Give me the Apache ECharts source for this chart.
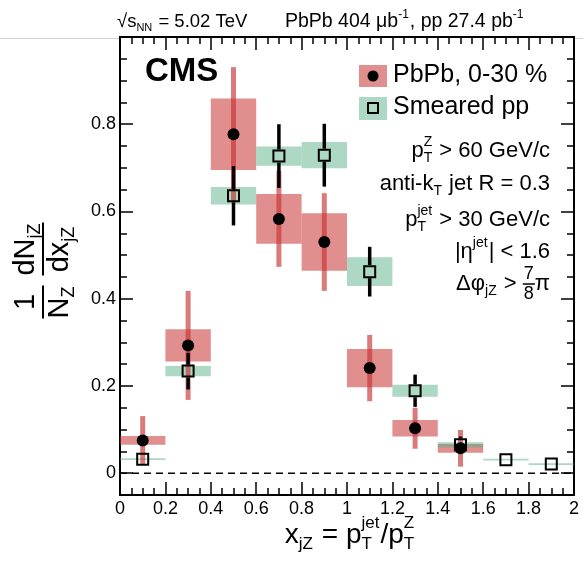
<!DOCTYPE html>
<html>
<head>
<meta charset="utf-8">
<script src="https://cdn.jsdelivr.net/npm/echarts@6/dist/echarts.min.js"></script>
<style>
html, body { margin: 0; padding: 0; background: #fff; }
#main { width: 583px; height: 564px; }
</style>
</head>
<body>
<div id="main"></div>
<script>
// bin centres of x_jZ, bins are 0.2 wide
var xBins = [0.1, 0.3, 0.5, 0.7, 0.9, 1.1, 1.3, 1.5, 1.7, 1.9];
var binHalf = 0.1;
// PbPb 0-30 %
var pbpbVal  = [0.075, 0.293, 0.777, 0.583, 0.530, 0.241, 0.103, 0.057, null, null];
var pbpbStat = [0.056, 0.125, 0.154, 0.110, 0.112, 0.076, 0.047, 0.042, null, null];
var pbpbSys  = [0.010, 0.037, 0.082, 0.057, 0.066, 0.044, 0.019, 0.010, null, null];
// smeared pp
var ppVal    = [0.032, 0.234, 0.636, 0.727, 0.729, 0.462, 0.189, 0.065, 0.031, 0.021];
var ppStat   = [0.004, 0.042, 0.068, 0.073, 0.072, 0.057, 0.037, 0.019, 0.004, 0.004];
var ppSys    = [0.002, 0.012, 0.020, 0.022, 0.030, 0.033, 0.014, 0.006, 0.002, 0.002];
// axis ticks
var yMajor = [0, 0.2, 0.4, 0.6, 0.8];

var FONT = '"Liberation Sans", Arial, Helvetica, sans-serif';
var RED_BOX = 'rgba(199,50,50,0.55)';
var RED_BAR = 'rgba(199,50,50,0.65)';
var GREEN_BOX = 'rgba(89,177,137,0.5)';

var mctx = document.createElement('canvas').getContext('2d');
function tw(s, size, bold) {
    mctx.font = (bold ? 'bold ' : '') + size + 'px ' + FONT;
    return mctx.measureText(s).width;
}
function txt(s, x, y, size, bold) {
    return {
        type: 'text', x: x, y: y, silent: true, z: 100,
        style: { text: s, fill: '#000', font: (bold ? 'bold ' : '') + size + 'px ' + FONT,
            align: 'left', verticalAlign: 'middle', textAlign: 'left', textVerticalAlign: 'middle' }
    };
}
// little TLatex-like helper: strings, {sub}, {sup}, {frac:[a,b]}
function formula(parts, x, y, size, anchor) {
    var small = Math.round(size * 0.62), cx = 0, items = [];
    parts.forEach(function (p) {
        if (typeof p === 'string') { items.push([p, cx, 0, size]); cx += tw(p, size); return; }
        if (p.frac) {
            var fs = Math.round(size * 0.8);
            var w = Math.max(tw(p.frac[0], fs), tw(p.frac[1], fs)) + 2;
            items.push([p.frac[0], cx + (w - tw(p.frac[0], fs)) / 2, -size * 0.45, fs]);
            items.push([p.frac[1], cx + (w - tw(p.frac[1], fs)) / 2, size * 0.45, fs]);
            items.push(['__line', cx, 0, w]);
            cx += w; return;
        }
        var w2 = 0;
        if (p.sup) { items.push([p.sup, cx, -size * 0.4, small]); w2 = tw(p.sup, small); }
        if (p.sub) { items.push([p.sub, cx, size * 0.32, small]); w2 = Math.max(w2, tw(p.sub, small)); }
        cx += w2 + 1;
    });
    var x0 = anchor === 'right' ? x - cx : anchor === 'center' ? x - cx / 2 : x;
    var els = items.map(function (it) {
        if (it[0] === '__line') {
            return { type: 'line', silent: true, z: 100,
                shape: { x1: x0 + it[1], y1: y + it[2], x2: x0 + it[1] + it[3], y2: y + it[2] },
                style: { stroke: '#000', lineWidth: 1.5 } };
        }
        return txt(it[0], x0 + it[1], y + it[2], it[3]);
    });
    return { els: els, width: cx };
}

function pick(vals, errs) {
    var d = [];
    xBins.forEach(function (x, i) { if (vals[i] != null) d.push([x, vals[i], errs[i]]); });
    return d;
}
function boxSeries(vals, errs, color, z) {
    return {
        type: 'custom', z: z, silent: true, encode: { x: 0, y: 1 }, data: pick(vals, errs),
        renderItem: function (params, api) {
            var x = api.value(0), y = api.value(1), e = api.value(2);
            var p1 = api.coord([x - binHalf, y + e]), p2 = api.coord([x + binHalf, y - e]);
            var h = Math.max(p2[1] - p1[1], 1.2);
            return { type: 'rect', shape: { x: p1[0], y: (p1[1] + p2[1]) / 2 - h / 2, width: p2[0] - p1[0], height: h },
                style: { fill: color } };
        }
    };
}
function barSeries(vals, errs, color, width, gap, z) {
    return {
        type: 'custom', z: z, silent: true, encode: { x: 0, y: 1 }, data: pick(vals, errs),
        renderItem: function (params, api) {
            var x = api.value(0), y = api.value(1), e = api.value(2);
            var t = api.coord([x, y + e]), c = api.coord([x, y]), b = api.coord([x, y - e]);
            var kids = [];
            if (c[1] - gap > t[1]) kids.push({ type: 'line', shape: { x1: t[0], y1: t[1], x2: t[0], y2: c[1] - gap }, style: { stroke: color, lineWidth: width } });
            if (b[1] > c[1] + gap) kids.push({ type: 'line', shape: { x1: t[0], y1: c[1] + gap, x2: t[0], y2: b[1] }, style: { stroke: color, lineWidth: width } });
            return { type: 'group', children: kids };
        }
    };
}

var myChart = echarts.init(document.getElementById('main'));

var g = [];
g.push({ type: 'line', silent: true, shape: { x1: 0, y1: 38.5, x2: 119, y2: 38.5 }, style: { stroke: '#d0d0d0', lineWidth: 1 } });
g.push({ type: 'line', silent: true, shape: { x1: 575, y1: 38.5, x2: 583, y2: 38.5 }, style: { stroke: '#d0d0d0', lineWidth: 1 } });
// header
g = g.concat(formula(['\u221A', 's', { sub: 'NN' }, ' = 5.02 TeV'], 117, 22, 18.5, 'left').els);
g = g.concat(formula(['PbPb 404 \u03BCb', { sup: '-1' }, ', pp 27.4 pb', { sup: '-1' }], 285, 22, 19.5, 'left').els);
// CMS
g.push(txt('CMS', 145, 72, 33, true));
// legend
g.push({ type: 'rect', silent: true, shape: { x: 359, y: 65, width: 28, height: 22 }, style: { fill: RED_BOX } });
g.push({ type: 'circle', silent: true, z: 100, shape: { cx: 373, cy: 76, r: 5.5 }, style: { fill: '#000' } });
g.push(txt('PbPb, 0-30 %', 393, 75, 25));
g.push({ type: 'rect', silent: true, shape: { x: 359, y: 97, width: 28, height: 23 }, style: { fill: GREEN_BOX } });
g.push({ type: 'rect', silent: true, z: 100, shape: { x: 368, y: 103, width: 10, height: 10 }, style: { fill: 'none', stroke: '#000', lineWidth: 2 } });
g.push(txt('Smeared pp', 393, 107, 25));
// selection text
g = g.concat(formula(['p', { sup: 'Z', sub: 'T' }, ' > 60 GeV/c'], 550, 151, 22, 'right').els);
g = g.concat(formula(['anti-k', { sub: 'T' }, ' jet R = 0.3'], 550, 184, 22, 'right').els);
g = g.concat(formula(['p', { sup: 'jet', sub: 'T' }, ' > 30 GeV/c'], 550, 220, 22, 'right').els);
g = g.concat(formula(['|\u03B7', { sup: 'jet' }, '| < 1.6'], 550, 252, 22, 'right').els);
g = g.concat(formula(['\u0394\u03C6', { sub: 'jZ' }, ' > ', { frac: ['7', '8'] }, '\u03C0'], 550, 284, 22, 'right').els);
// x axis title
g = g.concat(formula(['x', { sub: 'jZ' }, ' = p', { sup: 'jet', sub: 'T' }, '/p', { sup: 'Z', sub: 'T' }], 350, 535, 28, 'center').els);
// y axis title, rotated
var yt = 29;
var nA = formula(['1'], 0, -17, yt, 'center');
var dA = formula(['N', { sub: 'Z' }], 0, 17, yt, 'center');
var w1 = Math.max(nA.width, dA.width);
var c2 = w1 / 2 + 10;
var nB0 = formula(['dN', { sub: 'jZ' }], 0, 0, yt, 'left');
var dB0 = formula(['dx', { sub: 'jZ' }], 0, 0, yt, 'left');
var w2 = Math.max(nB0.width, dB0.width);
c2 += w2 / 2;
var nB = formula(['dN', { sub: 'jZ' }], c2, -17, yt, 'center');
var dB = formula(['dx', { sub: 'jZ' }], c2, 17, yt, 'center');
var ykids = [].concat(nA.els, dA.els, nB.els, dB.els);
ykids.push({ type: 'line', silent: true, shape: { x1: -w1 / 2, y1: 0, x2: w1 / 2, y2: 0 }, style: { stroke: '#000', lineWidth: 2 } });
ykids.push({ type: 'line', silent: true, shape: { x1: c2 - w2 / 2, y1: 0, x2: c2 + w2 / 2, y2: 0 }, style: { stroke: '#000', lineWidth: 2 } });
g.push({ type: 'group', x: 43, y: 302, rotation: Math.PI / 2, children: ykids });

var axLine = { onZero: false, lineStyle: { color: '#000', width: 2 } };
var tickStyle = { color: '#000', width: 1.5 };

var option = {
    animation: false,
    grid: [
        { left: 120, right: 9, top: 37, bottom: 69 },
        { left: 120, right: 9, top: 37, bottom: 69 }
    ],
    xAxis: [{
        gridIndex: 0, type: 'value', position: 'bottom', min: 0, max: 2, interval: 0.2,
        axisLine: axLine,
        axisTick: { inside: true, length: 13, lineStyle: tickStyle },
        minorTick: { show: true, splitNumber: 4, length: 7, lineStyle: tickStyle },
        axisLabel: { color: '#000', fontSize: 18, fontFamily: FONT, margin: 5 },
        splitLine: { show: false }
    }, {
        gridIndex: 0, type: 'value', position: 'top', min: 0, max: 2, interval: 0.2,
        axisLine: axLine,
        axisTick: { inside: true, length: 13, lineStyle: tickStyle },
        minorTick: { show: true, splitNumber: 4, length: 7, lineStyle: tickStyle },
        axisLabel: { show: false },
        splitLine: { show: false }
    }, {
        gridIndex: 1, type: 'value', min: 0, max: 2, show: false
    }],
    yAxis: [{
        gridIndex: 0, type: 'value', position: 'left', min: -0.05, max: 1,
        axisLine: axLine,
        axisTick: { inside: true, length: 13, lineStyle: tickStyle, customValues: yMajor },
        axisLabel: { color: '#000', fontSize: 18, fontFamily: FONT, margin: 4, customValues: yMajor },
        splitLine: { show: false }
    }, {
        gridIndex: 0, type: 'value', position: 'right', min: -0.05, max: 1,
        axisLine: axLine,
        axisTick: { inside: true, length: 13, lineStyle: tickStyle, customValues: yMajor },
        axisLabel: { show: false },
        splitLine: { show: false }
    }, {
        gridIndex: 1, type: 'value', position: 'left', min: -0.05, max: 1, interval: 0.05,
        axisLine: axLine,
        axisTick: { inside: true, length: 7, lineStyle: tickStyle },
        axisLabel: { show: false },
        splitLine: { show: false }
    }, {
        gridIndex: 1, type: 'value', position: 'right', min: -0.05, max: 1, interval: 0.05,
        axisLine: axLine,
        axisTick: { inside: true, length: 7, lineStyle: tickStyle },
        axisLabel: { show: false },
        splitLine: { show: false }
    }],
    graphic: { elements: g },
    series: [
        {
            type: 'line', z: 2, silent: true, symbol: 'none', data: [[0, 0], [2, 0]],
            lineStyle: { color: '#000', width: 1.5, type: [7, 5] }
        },
        boxSeries(pbpbVal, pbpbSys, RED_BOX, 3),
        boxSeries(ppVal, ppSys, GREEN_BOX, 4),
        barSeries(pbpbVal, pbpbStat, RED_BAR, 5, 0, 5),
        barSeries(ppVal, ppStat, '#000', 3.5, 6.5, 6),
        {
            type: 'scatter', z: 7, silent: true, symbol: 'circle', symbolSize: 12,
            data: pick(pbpbVal, pbpbStat).map(function (d) { return [d[0], d[1]]; }),
            itemStyle: { color: '#000', opacity: 1 }
        },
        {
            type: 'scatter', z: 8, silent: true, symbol: 'rect', symbolSize: 11,
            data: pick(ppVal, ppStat).map(function (d) { return [d[0], d[1]]; }),
            itemStyle: { color: 'rgba(0,0,0,0)', borderColor: '#000', borderWidth: 2, opacity: 1 }
        }
    ]
};
myChart.setOption(option);
</script>
</body>
</html>
